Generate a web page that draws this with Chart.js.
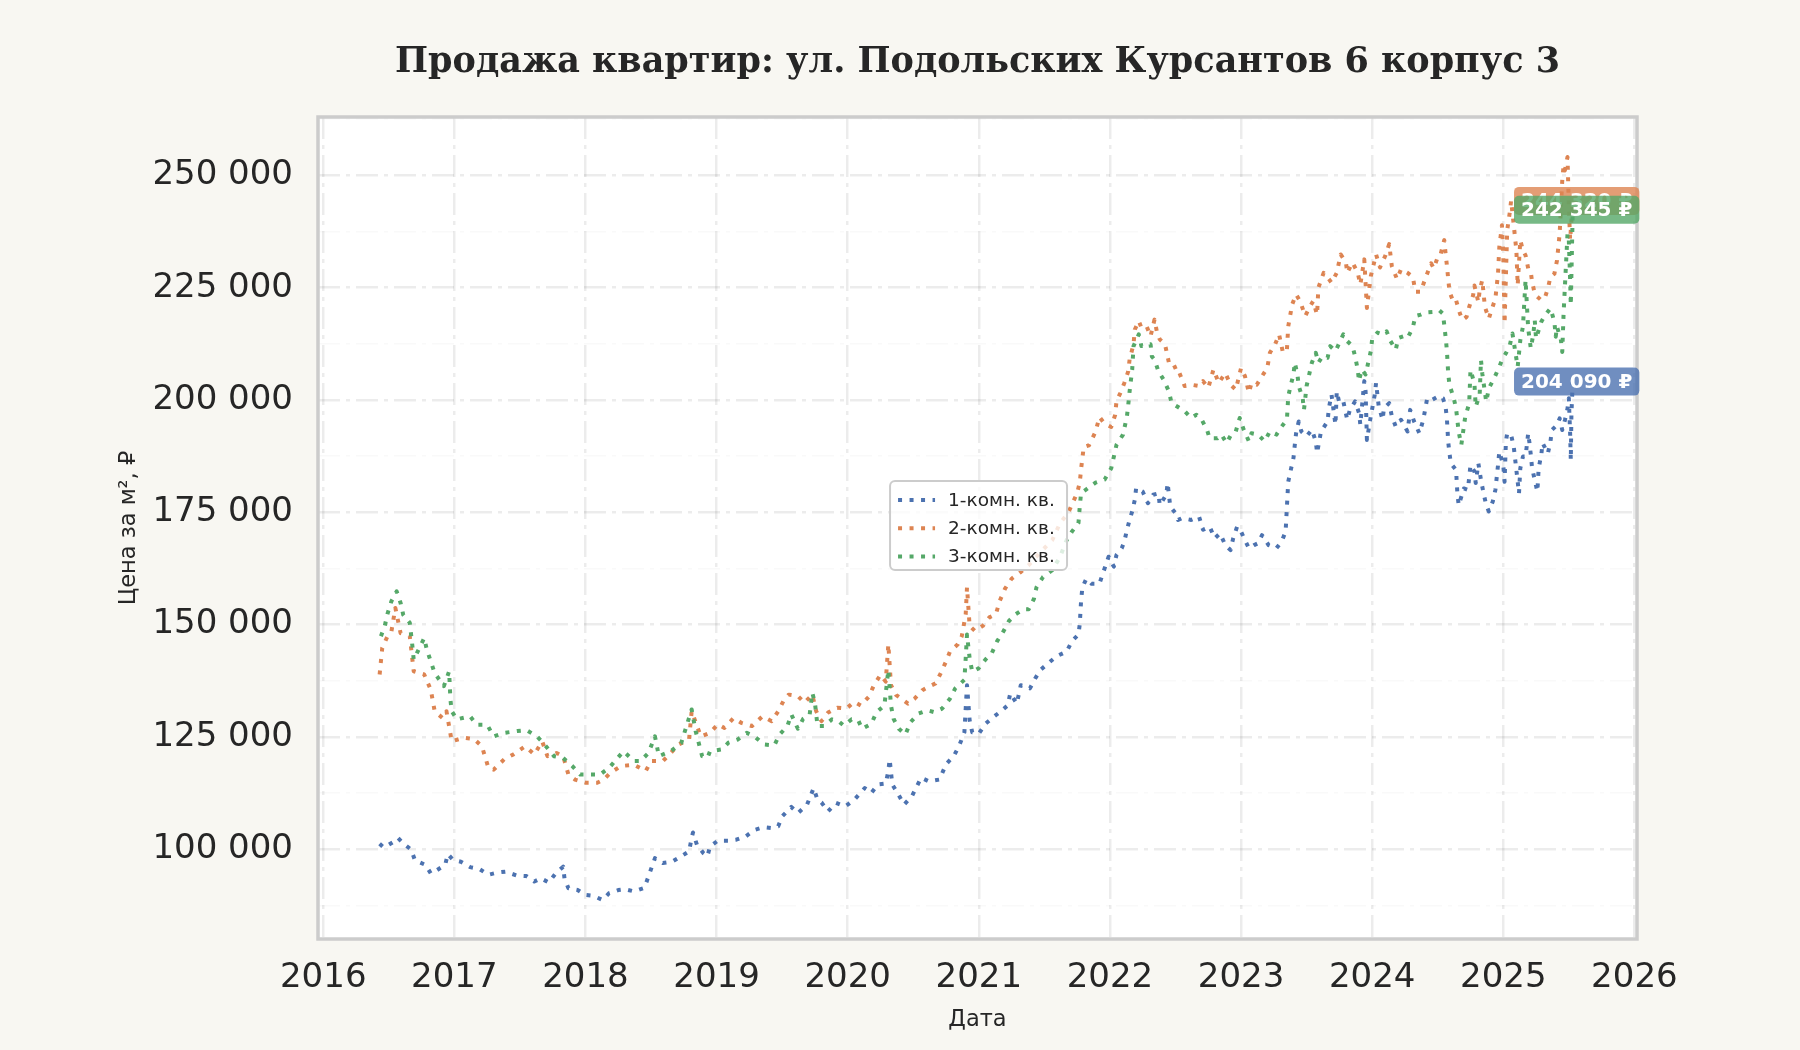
<!DOCTYPE html>
<html lang="ru">
<head>
<meta charset="utf-8">
<title>Продажа квартир: ул. Подольских Курсантов 6 корпус 3</title>
<script src="https://cdn.jsdelivr.net/npm/chart.js@4.4.1/dist/chart.umd.min.js"></script>
<style>
  html, body { margin: 0; padding: 0; background: #f8f7f2; }
  #wrap { width: 1800px; height: 1050px; }
</style>
</head>
<body>
<div id="wrap"><canvas id="priceChart" width="1800" height="1050"></canvas></div>
<script>
// --- data (decimal year, price per m² in ₽) ---
const chartTitle = 'Продажа квартир: ул. Подольских Курсантов 6 корпус 3';
const seriesNames = ['1-комн. кв.', '2-комн. кв.', '3-комн. кв.'];

const oneRoomDates = [
  2016.43, 2016.46, 2016.50, 2016.54, 2016.57, 2016.61, 2016.67, 2016.70, 2016.78, 2016.82, 2016.86, 2016.93, 2016.95, 2016.99,
  2017.05, 2017.12, 2017.19, 2017.26, 2017.33, 2017.39, 2017.48, 2017.55, 2017.61, 2017.66, 2017.72, 2017.77, 2017.83, 2017.84, 2017.87, 2017.94,
  2018.00, 2018.06, 2018.13, 2018.18, 2018.25, 2018.30, 2018.37, 2018.45, 2018.48, 2018.53, 2018.59, 2018.66, 2018.73, 2018.79, 2018.81, 2018.82, 2018.85, 2018.90, 2018.93, 2018.95,
  2019.01, 2019.09, 2019.15, 2019.22, 2019.29, 2019.36, 2019.42, 2019.47, 2019.50, 2019.57, 2019.62, 2019.69, 2019.74, 2019.77, 2019.80, 2019.85, 2019.91, 2019.98,
  2020.05, 2020.13, 2020.18, 2020.23, 2020.29, 2020.31, 2020.32, 2020.34, 2020.38, 2020.43, 2020.49, 2020.56, 2020.62, 2020.70, 2020.75, 2020.81, 2020.85, 2020.89, 2020.90, 2020.91, 2020.93, 2020.95,
  2021.00, 2021.05, 2021.11, 2021.16, 2021.22, 2021.24, 2021.29, 2021.32, 2021.39, 2021.43, 2021.47, 2021.53, 2021.59, 2021.67, 2021.71, 2021.76, 2021.77, 2021.78, 2021.79, 2021.82, 2021.86, 2021.92, 2021.95, 2021.99,
  2022.03, 2022.05, 2022.09, 2022.11, 2022.13, 2022.15, 2022.17, 2022.19, 2022.20, 2022.25, 2022.29, 2022.33, 2022.37, 2022.38, 2022.43, 2022.44, 2022.46, 2022.50, 2022.52, 2022.55, 2022.62, 2022.68, 2022.71, 2022.76, 2022.80, 2022.84, 2022.88, 2022.92, 2022.94, 2022.97,
  2023.00, 2023.03, 2023.06, 2023.10, 2023.13, 2023.16, 2023.21, 2023.27, 2023.31, 2023.34, 2023.35, 2023.36, 2023.38, 2023.40, 2023.41, 2023.42, 2023.44, 2023.46, 2023.50, 2023.54, 2023.57, 2023.58, 2023.61, 2023.66, 2023.67, 2023.69, 2023.72, 2023.73, 2023.75, 2023.78, 2023.81, 2023.83, 2023.87, 2023.90, 2023.91, 2023.94, 2023.95, 2023.96, 2023.99,
  2024.02, 2024.03, 2024.05, 2024.08, 2024.09, 2024.13, 2024.15, 2024.18, 2024.22, 2024.27, 2024.29, 2024.32, 2024.36, 2024.39, 2024.42, 2024.46, 2024.51, 2024.54, 2024.56, 2024.57, 2024.58, 2024.59, 2024.60, 2024.64, 2024.65, 2024.66, 2024.70, 2024.73, 2024.75, 2024.78, 2024.79, 2024.81, 2024.83, 2024.85, 2024.87, 2024.89, 2024.92, 2024.94, 2024.96, 2024.97,
  2025.00, 2025.01, 2025.02, 2025.03, 2025.06, 2025.08, 2025.09, 2025.10, 2025.11, 2025.12, 2025.13, 2025.15, 2025.17, 2025.19, 2025.20, 2025.21, 2025.22, 2025.24, 2025.26, 2025.27, 2025.29, 2025.30, 2025.34, 2025.36, 2025.37, 2025.41, 2025.43, 2025.45, 2025.47, 2025.49, 2025.50, 2025.51, 2025.515, 2025.52, 2025.53
];
const oneRoomPrices = [
  101200, 100400, 101000, 101700, 102500, 101300, 99900, 97500, 96500, 94600, 95200, 96500, 98900, 97600,
  97200, 96000, 95600, 94300, 94800, 95000, 94100, 94000, 92800, 93500, 92600, 94500, 96100, 93500, 91300, 90900,
  89800, 89600, 88700, 90200, 90900, 91100, 90600, 91400, 93900, 98000, 96900, 97200, 98400, 99500, 102500, 103700, 101000, 99100, 98400, 100600,
  101900, 101900, 102100, 102800, 104300, 104900, 104700, 105100, 107300, 109400, 108000, 109900, 113600, 111000, 110400, 108400, 110300, 109500,
  111000, 113600, 112500, 114400, 114600, 117400, 120000, 114400, 112500, 109900, 111800, 115900, 115100, 115500, 118900, 120800, 123000, 126000, 131300, 136500, 128700, 126000,
  125700, 127900, 129400, 130500, 132000, 134700, 132400, 136500, 135800, 138000, 139900, 141400, 142900, 144000, 146300, 147800, 150100, 155300, 158300, 160200, 159100, 159100, 161700, 165100,
  162900, 165500, 167000, 168500, 171100, 173300, 175200, 177800, 180400, 179600, 177000, 178900, 179200, 176600, 178900, 181500, 176300, 174800, 173300, 173700, 173300, 174000, 171100, 171800, 169200, 170300, 167700, 166600, 169200, 171800,
  170700, 168800, 167000, 167700, 168100, 169900, 167700, 167000, 168500, 170700, 176300, 181800, 184500, 187100, 190000, 192600, 195200, 193000, 191900, 193400, 190800, 188200, 193000, 195200, 198200, 201200, 194500, 201900, 199300, 199700, 195600, 197800, 199700, 197100, 194500, 204200, 201900, 191100, 196400,
  201200, 203800, 198600, 195600, 198200, 199300, 196400, 194100, 195600, 193000, 197800, 195200, 192600, 195600, 200400, 200100, 200900, 200400, 198500, 195900, 190700, 188100, 185900, 184400, 179200, 176600, 180300, 180000, 185500, 184100, 181500, 185900, 182200, 179200, 176600, 175200, 177400, 180000, 185500, 188500,
  185500, 181800, 190700, 192600, 192200, 189600, 187000, 184400, 181800, 179200, 184800, 187400, 187400, 192600, 190400, 187800, 184800, 182200, 179600, 184800, 187800, 190400, 188100, 190700, 193300, 194400, 195900, 193300, 195500, 198100, 200400, 192600, 186600, 197000, 204090
];

const twoRoomDates = [
  2016.43, 2016.45, 2016.49, 2016.52, 2016.55, 2016.59, 2016.66, 2016.69, 2016.77, 2016.82, 2016.85, 2016.91, 2016.94, 2016.98,
  2017.07, 2017.15, 2017.21, 2017.26, 2017.30, 2017.38, 2017.45, 2017.54, 2017.61, 2017.67, 2017.71, 2017.78, 2017.83, 2017.87, 2017.92,
  2018.00, 2018.09, 2018.14, 2018.19, 2018.27, 2018.37, 2018.46, 2018.50, 2018.59, 2018.65, 2018.71, 2018.79, 2018.81, 2018.88, 2018.95,
  2019.01, 2019.06, 2019.13, 2019.19, 2019.27, 2019.35, 2019.42, 2019.47, 2019.51, 2019.55, 2019.62, 2019.67, 2019.73, 2019.76, 2019.80, 2019.85, 2019.92, 2019.99,
  2020.05, 2020.10, 2020.16, 2020.20, 2020.25, 2020.29, 2020.31, 2020.33, 2020.37, 2020.41, 2020.46, 2020.51, 2020.57, 2020.62, 2020.67, 2020.71, 2020.75, 2020.78, 2020.84, 2020.87, 2020.90, 2020.91, 2020.93, 2020.97,
  2021.03, 2021.08, 2021.13, 2021.16, 2021.20, 2021.25, 2021.32, 2021.38, 2021.46, 2021.56, 2021.62, 2021.68, 2021.71, 2021.75, 2021.77, 2021.78, 2021.80, 2021.84, 2021.89, 2021.92, 2021.96,
  2022.01, 2022.04, 2022.05, 2022.08, 2022.11, 2022.14, 2022.15, 2022.18, 2022.19, 2022.22, 2022.24, 2022.28, 2022.31, 2022.34, 2022.36, 2022.38, 2022.42, 2022.45, 2022.48, 2022.51, 2022.54, 2022.57, 2022.62, 2022.68, 2022.71, 2022.75, 2022.79, 2022.83, 2022.88, 2022.92, 2022.96,
  2023.00, 2023.03, 2023.06, 2023.08, 2023.12, 2023.16, 2023.20, 2023.22, 2023.26, 2023.29, 2023.32, 2023.35, 2023.36, 2023.39, 2023.42, 2023.45, 2023.49, 2023.52, 2023.55, 2023.58, 2023.59, 2023.63, 2023.67, 2023.69, 2023.73, 2023.76, 2023.80, 2023.81, 2023.85, 2023.89, 2023.91, 2023.94, 2023.96, 2023.99,
  2024.03, 2024.06, 2024.10, 2024.13, 2024.15, 2024.19, 2024.22, 2024.27, 2024.31, 2024.33, 2024.37, 2024.41, 2024.45, 2024.47, 2024.50, 2024.52, 2024.55, 2024.56, 2024.57, 2024.58, 2024.59, 2024.62, 2024.64, 2024.67, 2024.69, 2024.72, 2024.74, 2024.77, 2024.78, 2024.81, 2024.82, 2024.84, 2024.86, 2024.89, 2024.91, 2024.94, 2024.96, 2024.97, 2024.99,
  2025.00, 2025.01, 2025.03, 2025.05, 2025.06, 2025.08, 2025.10, 2025.11, 2025.13, 2025.15, 2025.17, 2025.19, 2025.21, 2025.22, 2025.24, 2025.26, 2025.29, 2025.32, 2025.34, 2025.36, 2025.39, 2025.41, 2025.43, 2025.44, 2025.45, 2025.46, 2025.47, 2025.49, 2025.50, 2025.51, 2025.53
];
const twoRoomPrices = [
  138900, 144800, 147400, 148500, 153700, 148100, 147400, 139600, 138900, 135500, 130700, 129200, 130700, 124000,
  124800, 124500, 122900, 118100, 117700, 120000, 121100, 122900, 121100, 124000, 120700, 121400, 120700, 116600, 115500,
  114800, 114800, 115500, 117000, 118500, 118800, 117400, 119600, 119600, 121400, 123300, 124400, 130700, 125100, 125900,
  127800, 127000, 129200, 128100, 127400, 129600, 128500, 130700, 133000, 134400, 134100, 132600, 134400, 130700, 128500, 130400, 131500, 131300,
  132800, 132000, 133900, 136500, 138800, 137300, 145600, 136500, 134300, 133500, 132400, 133500, 135400, 136200, 136900, 139200, 141800, 144000, 145600, 147400, 152300, 158300, 149700, 148600,
  149700, 151600, 152300, 155300, 158000, 160200, 161700, 163200, 165800, 168800, 172600, 174800, 176700, 179300, 181600, 184600, 189500, 189900, 192900, 196200, 194700,
  194000, 196700, 199700, 201600, 203800, 206400, 209000, 212400, 215700, 217600, 216100, 216400, 214200, 217900, 214900, 213500, 212400, 208300, 207100, 207500, 205300, 203100, 203400, 203100, 204200, 202700, 206800, 203800, 206000, 203400, 202300,
  207100, 205300, 201600, 203800, 203400, 205300, 207100, 210500, 212400, 214600, 210500, 211200, 216400, 221300, 223500, 222000, 218700, 220500, 222000, 219000, 225000, 228300, 226900, 226100, 228300, 232400, 230600, 228300, 230600, 228300, 225700, 231300, 220500, 227600,
  232400, 229500, 232100, 234700, 229800, 226900, 229100, 228300, 227400, 224100, 224100, 227400, 230400, 229300, 231800, 232200, 235600, 232600, 230000, 227000, 224100, 221800, 222200, 219200, 217800, 218500, 220700, 223300, 225500, 221800, 224400, 226700, 220700, 218100, 220000, 222600, 228100, 234100, 238900,
  232200, 217000, 237800, 241800, 244400, 238900, 233300, 225500, 235600, 233300, 232200, 229300, 228500, 226300, 223700, 223000, 222200, 223000, 224800, 227400, 228100, 231100, 237000, 243000, 248900, 252200, 251100, 254100, 243000, 235600, 244320
];

const threeRoomDates = [
  2016.44, 2016.47, 2016.49, 2016.52, 2016.56, 2016.59, 2016.61, 2016.66, 2016.68, 2016.69, 2016.77, 2016.79, 2016.82, 2016.85, 2016.92, 2016.96, 2016.97, 2016.98,
  2017.02, 2017.12, 2017.17, 2017.25, 2017.30, 2017.38, 2017.48, 2017.55, 2017.63, 2017.68, 2017.76, 2017.83, 2017.90, 2017.96,
  2018.04, 2018.11, 2018.18, 2018.29, 2018.37, 2018.42, 2018.48, 2018.53, 2018.56, 2018.65, 2018.73, 2018.81, 2018.84, 2018.89, 2018.93, 2018.95,
  2019.04, 2019.09, 2019.16, 2019.23, 2019.29, 2019.36, 2019.44, 2019.48, 2019.54, 2019.57, 2019.62, 2019.66, 2019.71, 2019.73, 2019.75, 2019.77, 2019.82, 2019.88, 2019.93, 2019.97,
  2020.03, 2020.08, 2020.11, 2020.18, 2020.22, 2020.28, 2020.31, 2020.33, 2020.35, 2020.39, 2020.44, 2020.48, 2020.54, 2020.61, 2020.66, 2020.72, 2020.78, 2020.82, 2020.89, 2020.90, 2020.91, 2020.93, 2020.95,
  2021.00, 2021.05, 2021.10, 2021.14, 2021.19, 2021.23, 2021.28, 2021.34, 2021.38, 2021.42, 2021.44, 2021.49, 2021.56, 2021.62, 2021.67, 2021.71, 2021.76, 2021.77, 2021.78, 2021.82, 2021.89, 2021.96,
  2022.01, 2022.03, 2022.05, 2022.10, 2022.13, 2022.14, 2022.15, 2022.17, 2022.18, 2022.22, 2022.24, 2022.31, 2022.32, 2022.34, 2022.37, 2022.41, 2022.45, 2022.47, 2022.51, 2022.57, 2022.62, 2022.66, 2022.70, 2022.74, 2022.76, 2022.82, 2022.85, 2022.89, 2022.93, 2022.96, 2022.99,
  2023.02, 2023.06, 2023.08, 2023.13, 2023.18, 2023.22, 2023.27, 2023.31, 2023.35, 2023.36, 2023.38, 2023.40, 2023.41, 2023.43, 2023.44, 2023.47, 2023.48, 2023.50, 2023.52, 2023.54, 2023.57, 2023.59, 2023.62, 2023.66, 2023.68, 2023.72, 2023.75, 2023.78, 2023.81, 2023.85, 2023.87, 2023.89, 2023.90, 2023.92, 2023.95, 2023.97, 2023.99,
  2024.00, 2024.04, 2024.08, 2024.11, 2024.14, 2024.18, 2024.20, 2024.24, 2024.27, 2024.31, 2024.33, 2024.37, 2024.41, 2024.46, 2024.51, 2024.54, 2024.55, 2024.56, 2024.57, 2024.58, 2024.59, 2024.62, 2024.64, 2024.65, 2024.66, 2024.68, 2024.71, 2024.74, 2024.75, 2024.78, 2024.79, 2024.82, 2024.83, 2024.84, 2024.87, 2024.89, 2024.93, 2024.97, 2024.99,
  2025.02, 2025.05, 2025.07, 2025.10, 2025.11, 2025.13, 2025.15, 2025.16, 2025.17, 2025.19, 2025.20, 2025.21, 2025.23, 2025.24, 2025.25, 2025.29, 2025.32, 2025.36, 2025.39, 2025.40, 2025.41, 2025.44, 2025.45, 2025.46, 2025.47, 2025.48, 2025.49, 2025.50, 2025.51, 2025.515, 2025.53
];
const threeRoomPrices = [
  147400, 149800, 152400, 155200, 157400, 154800, 152200, 150400, 145200, 142200, 147000, 144400, 141800, 139200, 136300, 139600, 133300, 130700,
  128900, 129600, 127700, 127700, 125100, 125900, 126300, 126500, 125100, 123600, 120700, 120300, 118500, 116600,
  116600, 116600, 118100, 121800, 119600, 119600, 121400, 125100, 120700, 121800, 123600, 131100, 126300, 120700, 120300, 121800,
  122200, 123700, 124400, 125900, 125100, 123300, 123100, 125500, 127400, 130000, 126800, 129000, 130000, 134800, 132600, 127400, 127400, 128900, 128500, 127500,
  128900, 128700, 126800, 127900, 130500, 132000, 139900, 132000, 129000, 126800, 125500, 128300, 130200, 130900, 130500, 131300, 133500, 135800, 137700, 142500, 147800, 142500, 139500,
  140300, 142200, 143700, 146300, 148600, 150800, 152300, 153400, 153400, 155700, 158300, 160600, 162100, 165100, 168800, 170700, 172600, 176300, 179300, 180100, 181600, 182300,
  184800, 187400, 190000, 192300, 196400, 199000, 201900, 206800, 212000, 214600, 212000, 212400, 209700, 209000, 206400, 204500, 201900, 199300, 198600, 197500, 196000, 196700, 195600, 193400, 191500, 191500, 192300, 190400, 192600, 193000, 196000,
  193400, 190800, 192600, 192300, 190800, 193000, 192300, 194100, 195600, 200800, 203400, 205700, 208300, 205700, 203100, 200400, 197800, 203100, 205700, 208300, 210500, 208300, 209700, 209400, 212000, 210900, 212700, 214600, 213100, 212000, 209700, 206800, 204200, 206800, 205700, 208300, 210900,
  213500, 215000, 214600, 215300, 213100, 211200, 213800, 214200, 213800, 216100, 218700, 219000, 219500, 219600, 220000, 219200, 216700, 214100, 211100, 205900, 203300, 200700, 198100, 195500, 192900, 190000, 196300, 199200, 206700, 203700, 198500, 201100, 208900, 205900, 199600, 202600, 204800, 207400, 208900,
  210400, 212200, 214800, 209200, 207400, 213300, 216300, 221500, 226700, 215900, 213700, 211500, 214800, 217800, 213700, 217400, 218900, 220400, 217400, 214100, 216300, 213300, 210700, 219200, 225200, 231100, 237000, 235600, 226700, 221100, 242345
];

const yearTicks = [2016, 2017, 2018, 2019, 2020, 2021, 2022, 2023, 2024, 2025, 2026];
const priceTicks = [87500, 100000, 112500, 125000, 137500, 150000, 162500, 175000, 187500,
                    200000, 212500, 225000, 237500, 250000, 262500];
const lastLabelDate = 2025.56;

// --- styling ---
const colors = ['#4c72b0', '#dd8452', '#55a868'];
const textColor = '#262626';
const sans = "'DejaVu Sans', 'Noto Sans', sans-serif";
const gridDash = [22, 6, 4, 6];
const lineDash = [4, 7.5];

function fmtRub(v) {
  return String(Math.round(v)).replace(/\B(?=(\d{3})+(?!\d))/g, ' ');
}

function toPoints(dates, prices) {
  return dates.map((d, i) => ({ x: d, y: prices[i] }));
}

function rrect(ctx, x, y, w, h, r) {
  ctx.beginPath();
  ctx.moveTo(x + r, y);
  ctx.arcTo(x + w, y, x + w, y + h, r);
  ctx.arcTo(x + w, y + h, x, y + h, r);
  ctx.arcTo(x, y + h, x, y, r);
  ctx.arcTo(x, y, x + w, y, r);
  ctx.closePath();
}

// cream page, white plot area, grey frame, title centred over the plot
const plotFrame = {
  id: 'plotFrame',
  beforeDraw(chart) {
    const { ctx, chartArea: a } = chart;
    ctx.save();
    ctx.fillStyle = '#f8f7f2';
    ctx.fillRect(0, 0, chart.width, chart.height);
    ctx.fillStyle = '#ffffff';
    ctx.fillRect(a.left, a.top, a.right - a.left, a.bottom - a.top);
    ctx.fillStyle = textColor;
    ctx.font = "bold 35px 'DejaVu Serif', serif";
    ctx.textAlign = 'center';
    ctx.textBaseline = 'alphabetic';
    ctx.fillText(chartTitle, (a.left + a.right) / 2, 72);
    ctx.restore();
  },
  afterDatasetsDraw(chart) {
    const { ctx, chartArea: a } = chart;
    ctx.save();
    ctx.strokeStyle = '#cccccc';
    ctx.lineWidth = 3.5;
    ctx.strokeRect(a.left, a.top, a.right - a.left, a.bottom - a.top);
    ctx.restore();
  }
};

// last-value badges at the right end of each series
const lastBadges = {
  id: 'lastBadges',
  afterDraw(chart) {
    const { ctx, scales: { x, y } } = chart;
    const cx = x.getPixelForValue(lastLabelDate);
    ctx.save();
    ctx.font = 'bold 20px ' + sans;
    ctx.textAlign = 'center';
    ctx.textBaseline = 'middle';
    // orange first, then green over it, blue last
    [1, 2, 0].forEach(i => {
      const data = chart.data.datasets[i].data;
      const v = data[data.length - 1].y;
      const text = fmtRub(v) + ' ₽';
      const cy = y.getPixelForValue(v);
      const w = ctx.measureText(text).width + 14;
      const h = 28;
      ctx.globalAlpha = 0.8;
      ctx.fillStyle = colors[i];
      rrect(ctx, cx - w / 2, cy - h / 2, w, h, 5);
      ctx.fill();
      ctx.globalAlpha = 1;
      ctx.fillStyle = '#ffffff';
      ctx.fillText(text, cx, cy + 1);
    });
    ctx.restore();
  }
};

// framed legend sitting inside the plot
const boxLegend = {
  id: 'boxLegend',
  afterDraw(chart) {
    const { ctx, chartArea: a } = chart;
    const left = a.left + (a.right - a.left) * 0.4337;
    const top = a.top + (a.bottom - a.top) * 0.4428;
    const w = 177, h = 89;
    ctx.save();
    rrect(ctx, left, top, w, h, 5);
    ctx.fillStyle = 'rgba(255,255,255,0.8)';
    ctx.fill();
    ctx.strokeStyle = '#cccccc';
    ctx.lineWidth = 2;
    ctx.stroke();
    ctx.font = '18.5px ' + sans;
    ctx.textBaseline = 'middle';
    ctx.textAlign = 'left';
    seriesNames.forEach((name, i) => {
      const cy = top + 19 + i * 28.3;
      ctx.strokeStyle = colors[i];
      ctx.lineWidth = 4;
      ctx.lineCap = 'butt';
      ctx.setLineDash(lineDash);
      ctx.beginPath();
      ctx.moveTo(left + 8, cy);
      ctx.lineTo(left + 45, cy);
      ctx.stroke();
      ctx.setLineDash([]);
      ctx.fillStyle = textColor;
      ctx.fillText(name, left + 58, cy + 1);
    });
    ctx.restore();
  }
};

const ctx = document.getElementById('priceChart').getContext('2d');
new Chart(ctx, {
  type: 'line',
  data: {
    datasets: [
      { label: seriesNames[0], data: toPoints(oneRoomDates, oneRoomPrices), borderColor: colors[0], order: 2 },
      { label: seriesNames[1], data: toPoints(twoRoomDates, twoRoomPrices), borderColor: colors[1], order: 1 },
      { label: seriesNames[2], data: toPoints(threeRoomDates, threeRoomPrices), borderColor: colors[2], order: 0 }
    ]
  },
  options: {
    responsive: false,
    animation: false,
    devicePixelRatio: 1,
    parsing: false,
    elements: {
      line: { borderWidth: 4, borderDash: lineDash, borderCapStyle: 'butt', borderJoinStyle: 'round', tension: 0, fill: false },
      point: { radius: 0, hoverRadius: 0 }
    },
    layout: { padding: { left: 0, right: 163, top: 117, bottom: 0 } },
    plugins: {
      legend: { display: false },
      tooltip: { enabled: false },
      title: { display: false }
    },
    scales: {
      x: {
        type: 'linear',
        min: 2015.96,
        max: 2026.02,
        afterBuildTicks: s => { s.ticks = yearTicks.map(v => ({ value: v })); },
        afterFit: s => { s.height = 111; },
        ticks: {
          callback: v => String(v),
          color: textColor,
          font: { family: sans, size: 34 },
          padding: 19,
          maxRotation: 0,
          autoSkip: false
        },
        grid: { color: 'rgba(0,0,0,0.075)', lineWidth: 2.5, drawTicks: false },
        border: { display: false, dash: gridDash },
        title: {
          display: true,
          text: 'Дата',
          color: textColor,
          font: { family: sans, size: 22.5 },
          padding: { top: 0, bottom: 16 }
        }
      },
      y: {
        min: 80000,
        max: 263000,
        afterBuildTicks: s => { s.ticks = priceTicks.map(v => ({ value: v })); },
        afterFit: s => { s.width = 318; },
        ticks: {
          callback: v => (v % 25000 === 0 ? fmtRub(v) : ''),
          color: textColor,
          font: { family: sans, size: 34 },
          padding: 25,
          autoSkip: false
        },
        grid: {
          color: c => (c.tick && c.tick.value % 25000 === 0 ? 'rgba(0,0,0,0.075)' : 'rgba(0,0,0,0.025)'),
          lineWidth: c => (c.tick && c.tick.value % 25000 === 0 ? 2.5 : 1.5),
          drawTicks: false
        },
        border: { display: false, dash: gridDash },
        title: {
          display: true,
          text: 'Цена за м², ₽',
          color: textColor,
          font: { family: sans, size: 22.5 },
          padding: { top: 116, bottom: 0 }
        }
      }
    }
  },
  plugins: [plotFrame, boxLegend, lastBadges]
});
</script>
</body>
</html>
